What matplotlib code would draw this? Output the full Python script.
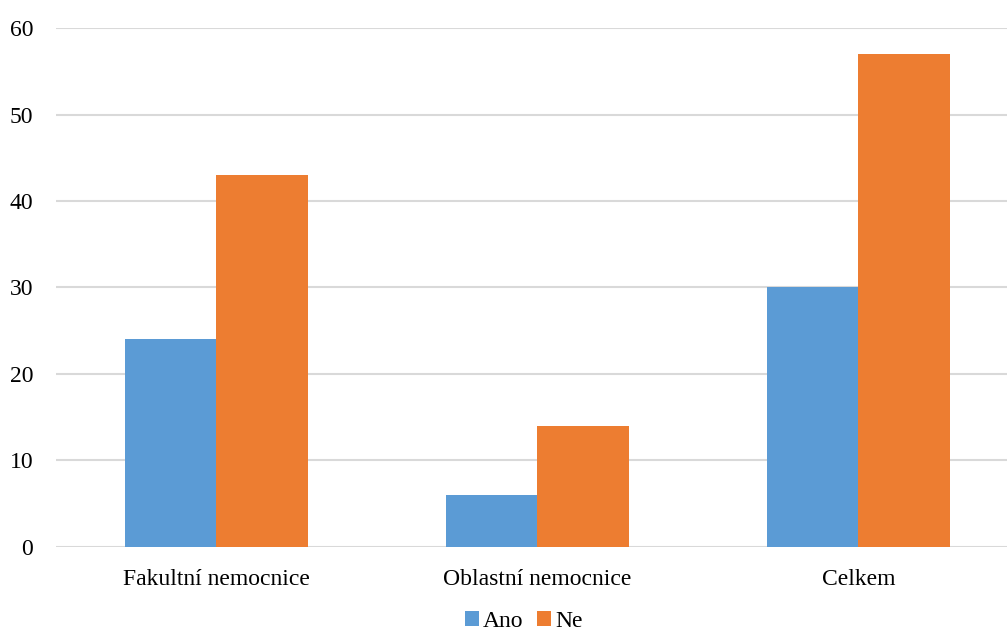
import matplotlib

matplotlib.use("Agg")
import matplotlib.pyplot as plt
import numpy as np

categories = ["Fakultní nemocnice", "Oblastní nemocnice", "Celkem"]
ano = [24, 6, 30]
ne = [43, 14, 57]
series_names = ["Ano", "Ne"]
yticks = [0, 10, 20, 30, 40, 50, 60]

plt.rcParams["font.family"] = ["Liberation Serif", "DejaVu Serif"]

fig = plt.figure(figsize=(10.07, 6.35), dpi=100)
# the plot area runs a little past the right edge, as in the original
ax = fig.add_axes([0.0556, 0.1386, 0.9563, 0.8173])

x = np.arange(len(categories))
w = 0.285
ax.bar(x - w / 2, ano, w, color="#5B9BD5", label=series_names[0], zorder=3)
ax.bar(x + w / 2, ne, w, color="#ED7D31", label=series_names[1], zorder=3)

ax.set_xlim(-0.5, len(categories) - 0.5)
ax.set_ylim(0, 60)
ax.set_yticks(yticks)
ax.set_xticks(x)
ax.set_xticklabels(categories)
ax.tick_params(axis="both", length=0, labelsize=17, colors="black")
ax.tick_params(axis="x", pad=16)
ax.tick_params(axis="y", pad=16.5)
ax.grid(axis="y", color="#D9D9D9", lw=1.5, zorder=0)
for s in ax.spines.values():
    s.set_visible(False)

fig.legend(loc="lower center", ncol=2, frameon=False, fontsize=17,
           bbox_to_anchor=(0.52, -0.028), handlelength=0.6, handleheight=0.6,
           handletextpad=0.15, columnspacing=0.6)

fig.savefig("out.png", dpi=100)
